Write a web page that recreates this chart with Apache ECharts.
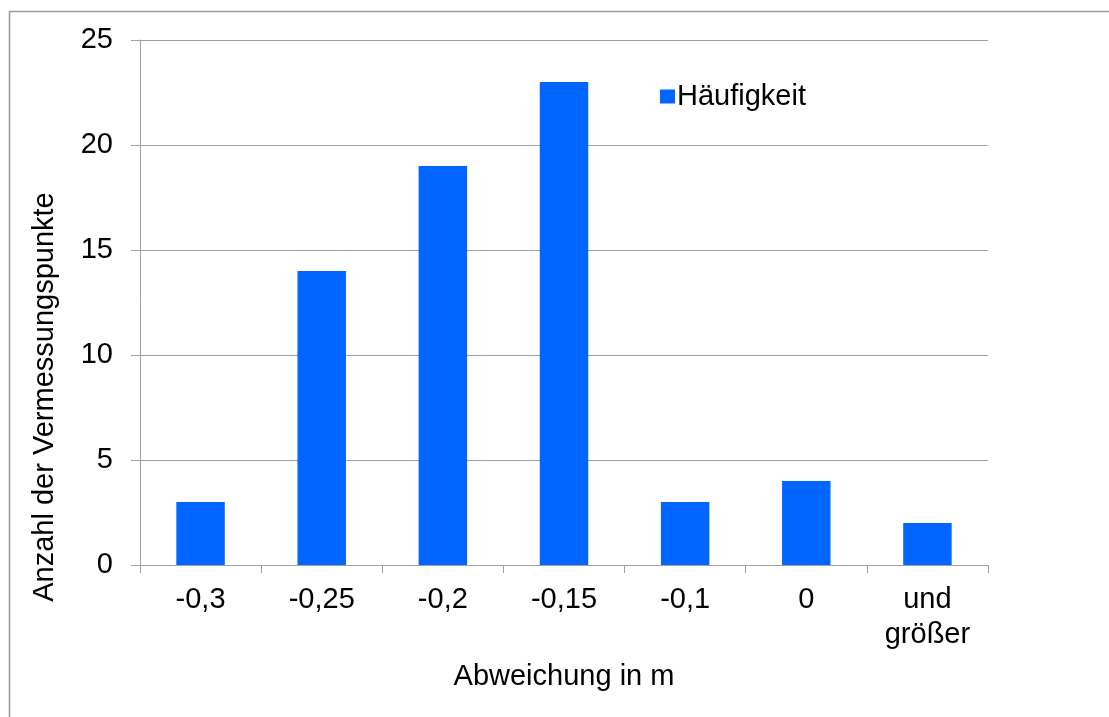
<!DOCTYPE html>
<html>
<head>
<meta charset="utf-8">
<script src="https://cdn.jsdelivr.net/npm/echarts@6/dist/echarts.min.js"></script>
<style>html,body{margin:0;padding:0;background:#fff}#c{width:1109px;height:717px}</style>
</head>
<body>
<div id="c"></div>
<script>
const categories = ['-0,3', '-0,25', '-0,2', '-0,15', '-0,1', '0', 'und\ngrößer'];
const haeufigkeit = [3, 14, 19, 23, 3, 4, 2];
const seriesName = 'Häufigkeit';
const xTitle = 'Abweichung in m';
const yTitle = 'Anzahl der Vermessungspunkte';

const chart = echarts.init(document.getElementById('c'), null, {renderer: 'canvas'});
const font = 'Liberation Sans, Arial, sans-serif';
const fs = 29;
const axisColor = '#a0a0a0';
chart.setOption({
  animation: false,
  backgroundColor: '#fff',
  grid: {left: 140, right: 121, top: 40, bottom: 152, containLabel: false},
  legend: {
    data: [seriesName], left: 655, top: 77, itemWidth: 15, itemHeight: 14, itemGap: 6,
    icon: 'rect',
    textStyle: {fontFamily: font, fontSize: fs, color: '#000', padding: [0,0,0,-3]}
  },
  xAxis: {
    type: 'category', data: categories,
    axisLine: {lineStyle: {color: axisColor, width: 1}},
    axisTick: {show: true, length: 8, lineStyle: {color: axisColor}},
    axisLabel: {fontFamily: font, fontSize: fs, color: '#000', margin: 17, lineHeight: 35, interval: 0}
  },
  yAxis: {
    type: 'value', min: 0, max: 25, interval: 5,
    axisLine: {show: true, lineStyle: {color: axisColor, width: 1}},
    axisTick: {show: true, length: 9, lineStyle: {color: axisColor}},
    splitLine: {lineStyle: {color: axisColor, width: 1}},
    axisLabel: {fontFamily: font, fontSize: fs, color: '#000', margin: 27}
  },
  series: [{
    name: seriesName, type: 'bar', data: haeufigkeit, barCategoryGap: '60%',
    itemStyle: {color: '#0066ff'}
  }],
  graphic: [
    {type: 'rect', left: 7, top: 9, shape: {width: 1200, height: 800}, style: {fill: 'none', stroke: '#999', lineWidth: 1.5}, z: -1},
    {type: 'text', style: {text: xTitle, x: 564, y: 677, fill: '#000', font: fs + 'px ' + font, textAlign: 'center', textVerticalAlign: 'middle'}},
    {type: 'text', rotation: Math.PI / 2, x: 45, y: 397, style: {text: yTitle, x: 0, y: 0, fill: '#000', font: fs + 'px ' + font, textAlign: 'center', textVerticalAlign: 'middle'}}
  ]
});
</script>
</body>
</html>
